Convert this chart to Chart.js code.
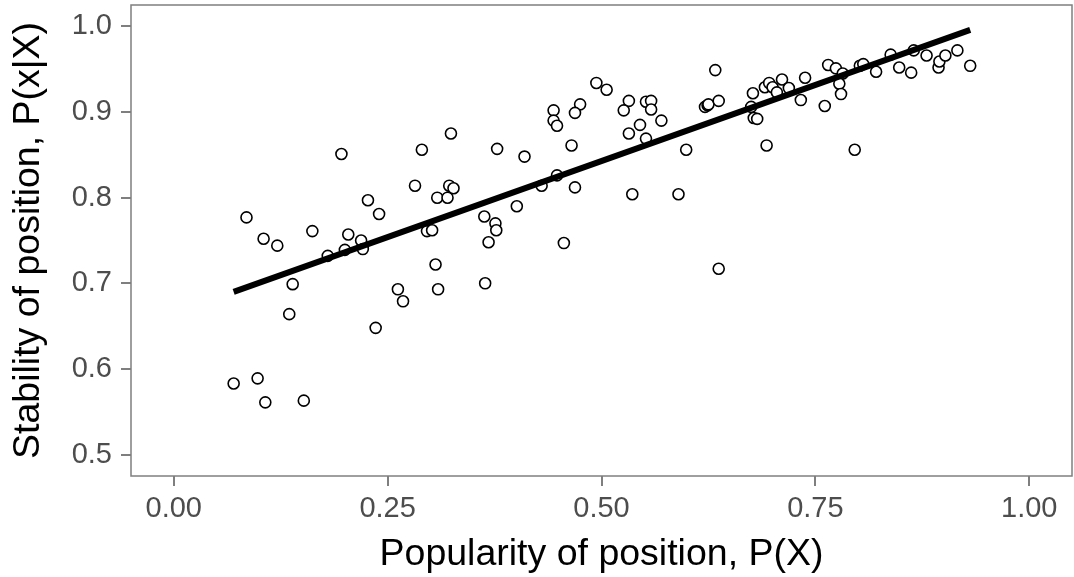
<!DOCTYPE html>
<html>
<head>
<meta charset="utf-8">
<script src="https://cdn.jsdelivr.net/npm/chart.js@4"></script>
<style>
  html, body { margin: 0; padding: 0; background: #fff; }
  #wrap { width: 1074px; height: 577px; }
</style>
</head>
<body>
<div id="wrap"><canvas id="stabChart" width="1074" height="577"></canvas></div>
<script>
// popularity of position, P(X)
var popX = [
  0.196, 0.290, 0.378, 0.085, 0.105, 0.121, 0.162, 0.204, 0.219, 0.221,
  0.200, 0.180, 0.227, 0.240, 0.282, 0.308, 0.320, 0.322, 0.327, 0.296,
  0.302, 0.363, 0.376, 0.377, 0.368, 0.306, 0.262, 0.268, 0.309, 0.364,
  0.139, 0.135, 0.236, 0.070, 0.098, 0.107, 0.152, 0.324, 0.633, 0.494,
  0.506, 0.444, 0.444, 0.448, 0.475, 0.469, 0.532, 0.526, 0.552, 0.558,
  0.558, 0.545, 0.570, 0.532, 0.552, 0.621, 0.624, 0.625, 0.637, 0.410,
  0.465, 0.599, 0.448, 0.430, 0.469, 0.536, 0.590, 0.401, 0.456, 0.637,
  0.677, 0.675, 0.678, 0.682, 0.693, 0.691, 0.696, 0.700, 0.705, 0.711,
  0.719, 0.733, 0.738, 0.761, 0.765, 0.774, 0.782, 0.778, 0.780, 0.796,
  0.802, 0.806, 0.821, 0.838, 0.848, 0.862, 0.865, 0.880, 0.894, 0.895,
  0.902, 0.916, 0.931
];
// stability of position, P(x|X)
var stabY = [
  0.851, 0.856, 0.857, 0.777, 0.752, 0.744, 0.761, 0.757, 0.750, 0.740,
  0.739, 0.732, 0.797, 0.781, 0.814, 0.800, 0.800, 0.814, 0.811, 0.761,
  0.762, 0.778, 0.770, 0.762, 0.748, 0.722, 0.693, 0.679, 0.693, 0.700,
  0.699, 0.664, 0.648, 0.583, 0.589, 0.561, 0.563, 0.875, 0.949, 0.934,
  0.926, 0.902, 0.890, 0.884, 0.909, 0.899, 0.913, 0.902, 0.912, 0.913,
  0.903, 0.885, 0.890, 0.875, 0.869, 0.906, 0.908, 0.909, 0.913, 0.848,
  0.861, 0.856, 0.826, 0.814, 0.812, 0.804, 0.804, 0.790, 0.747, 0.717,
  0.922, 0.906, 0.893, 0.892, 0.861, 0.929, 0.934, 0.929, 0.923, 0.938,
  0.928, 0.914, 0.940, 0.907, 0.955, 0.951, 0.945, 0.933, 0.921, 0.856,
  0.954, 0.956, 0.947, 0.967, 0.952, 0.946, 0.972, 0.966, 0.952, 0.959,
  0.966, 0.972, 0.954
];
// fitted line (linear fit), end points
var fitX = [0.070, 0.931];
var fitY = [0.690, 0.996];

var xTicks = [0, 0.25, 0.5, 0.75, 1];
var xTickLabels = ["0.00", "0.25", "0.50", "0.75", "1.00"];
var yTicks = [0.5, 0.6, 0.7, 0.8, 0.9, 1.0];
var yTickLabels = ["0.5", "0.6", "0.7", "0.8", "0.9", "1.0"];

var points = popX.map(function (x, i) { return { x: x, y: stabY[i] }; });
var fitLine = fitX.map(function (x, i) { return { x: x, y: fitY[i] }; });

// box around the panel
var panelBox = {
  id: "panelBox",
  afterDraw: function (chart) {
    var a = chart.chartArea, c = chart.ctx;
    c.save();
    c.strokeStyle = "#7f7f7f";
    c.lineWidth = 1.5;
    c.strokeRect(a.left, a.top, a.right - a.left, a.bottom - a.top);
    c.restore();
  }
};

var tickFont = { family: "Liberation Sans", size: 29 };
var titleFont = { family: "Liberation Sans", size: 37.5 };

new Chart("stabChart", {
  type: "scatter",
  data: {
    datasets: [
      {
        type: "line",
        data: fitLine,
        borderColor: "#000",
        borderWidth: 6,
        pointRadius: 0,
        fill: false,
        order: 0
      },
      {
        type: "scatter",
        data: points,
        pointRadius: 5.5,
        pointBorderWidth: 1.6,
        borderColor: "#000",
        backgroundColor: "#fff",
        order: 1
      }
    ]
  },
  options: {
    responsive: false,
    animation: false,
    events: [],
    layout: { autoPadding: false, padding: { top: 5, right: 2, left: 0, bottom: 0 } },
    plugins: { legend: { display: false }, tooltip: { enabled: false } },
    scales: {
      x: {
        type: "linear",
        min: -0.05,
        max: 1.05,
        afterFit: function (s) { s.height = 101; s.paddingLeft = 0; s.paddingRight = 0; },
        afterBuildTicks: function (s) { s.ticks = xTicks.map(function (v) { return { value: v }; }); },
        ticks: {
          color: "#4d4d4d",
          font: tickFont,
          padding: 6,
          maxRotation: 0,
          callback: function (v) { return xTickLabels[xTicks.indexOf(v)]; }
        },
        grid: { drawOnChartArea: false, tickLength: 10, tickColor: "#7f7f7f", lineWidth: 2 },
        border: { display: false },
        title: { display: true, text: "Popularity of position, P(X)", color: "#000", font: titleFont, padding: { top: 0, bottom: 0 } }
      },
      y: {
        type: "linear",
        min: 0.475,
        max: 1.025,
        afterFit: function (s) { s.width = 131; s.paddingTop = 0; s.paddingBottom = 0; },
        afterBuildTicks: function (s) { s.ticks = yTicks.map(function (v) { return { value: v }; }); },
        ticks: {
          color: "#4d4d4d",
          font: tickFont,
          padding: 9,
          callback: function (v) { return yTickLabels[yTicks.indexOf(v)]; }
        },
        grid: { drawOnChartArea: false, tickLength: 10, tickColor: "#7f7f7f", lineWidth: 2 },
        border: { display: false },
        title: { display: true, text: "Stability of position, P(x|X)", color: "#000", font: titleFont, padding: { top: 6, bottom: 0 } }
      }
    }
  },
  plugins: [panelBox]
});
</script>
</body>
</html>
